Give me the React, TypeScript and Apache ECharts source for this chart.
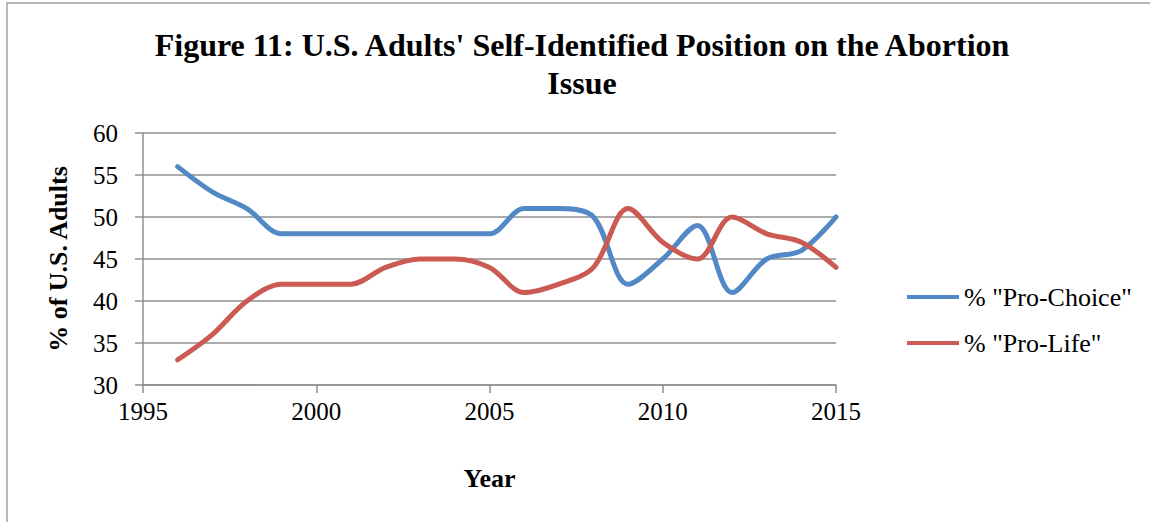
import React, { useEffect, useRef } from "react";
import * as echarts from "echarts";

const years = [1996, 1997, 1998, 1999, 2000, 2001, 2002, 2003, 2004, 2005, 2006, 2007, 2008, 2009, 2010, 2011, 2012, 2013, 2014, 2015];
const proChoice = [56, 53, 51, 48, 48, 48, 48, 48, 48, 48, 51, 51, 50, 42, 45, 49, 41, 45, 46, 50];
const proLife = [33, 36, 40, 42, 42, 42, 44, 45, 45, 44, 41, 42, 44, 51, 47, 45, 50, 48, 47, 44];
const seriesNames = ['% "Pro-Choice"', '% "Pro-Life"'];
const titleText = "Figure 11: U.S. Adults' Self-Identified Position on the Abortion\nIssue";
const xName = "Year";
const yName = "% of U.S. Adults";

const SERIF = "Liberation Serif";

export default function App() {
  const ref = useRef<HTMLDivElement>(null);
  useEffect(() => {
    if (!ref.current) return;
    const chart = echarts.init(ref.current, undefined, { renderer: "svg" });
    const gridColor = "#8f8f8f";
    chart.setOption({
      animation: false,
      backgroundColor: "#ffffff",
      textStyle: { fontFamily: SERIF, color: "#000" },
      graphic: [
        {
          type: "rect",
          shape: { x: 7, y: 3, width: 1160, height: 540 },
          style: { fill: "none", stroke: "#a3a3a3", lineWidth: 1.5 },
          silent: true,
        },
        {
          type: "text",
          x: 582,
          y: 26,
          style: {
            text: titleText,
            align: "center",
            verticalAlign: "top",
            fontFamily: SERIF,
            fontWeight: "bold",
            fontSize: 32,
            lineHeight: 38,
            fill: "#000",
          },
        },
      ],
      grid: { left: 143, right: 314, top: 133, bottom: 137 },
      legend: {
        orient: "vertical",
        left: 902,
        top: 279,
        itemWidth: 52,
        itemHeight: 4,
        itemGap: 20,
        icon: "rect",
        textStyle: { fontFamily: SERIF, fontSize: 26, color: "#000" },
        data: seriesNames,
      },
      xAxis: {
        type: "value",
        min: 1995,
        max: 2015,
        interval: 5,
        name: xName,
        nameLocation: "middle",
        nameGap: 80,
        nameTextStyle: { fontFamily: SERIF, fontWeight: "bold", fontSize: 26, color: "#000" },
        axisLine: { show: true, lineStyle: { color: gridColor, width: 1.5 } },
        axisTick: { show: true, length: 8, lineStyle: { color: gridColor, width: 1.5 } },
        axisLabel: {
          margin: 14,
          fontFamily: SERIF,
          fontSize: 25,
          color: "#000",
          formatter: (v: number) => String(v),
        },
        splitLine: { show: false },
      },
      yAxis: {
        type: "value",
        min: 30,
        max: 60,
        interval: 5,
        name: yName,
        nameLocation: "middle",
        nameGap: 72,
        nameRotate: 90,
        nameTextStyle: { fontFamily: SERIF, fontWeight: "bold", fontSize: 26, color: "#000" },
        axisLine: { show: true, lineStyle: { color: gridColor, width: 1.5 } },
        axisTick: { show: true, length: 8, lineStyle: { color: gridColor, width: 1.5 } },
        axisLabel: { margin: 25, fontFamily: SERIF, fontSize: 25, color: "#000" },
        splitLine: { show: true, lineStyle: { color: gridColor, width: 1.5 } },
      },
      series: [
        {
          name: seriesNames[0],
          type: "line",
          smooth: 0.33,
          smoothConstraint: false,
          showSymbol: false,
          symbol: "none",
          color: "#5288c6",
          lineStyle: { width: 5, color: "#5288c6", cap: "round", join: "round" },
          data: years.map((y, i) => [y, proChoice[i]]),
        },
        {
          name: seriesNames[1],
          type: "line",
          smooth: 0.33,
          smoothConstraint: false,
          showSymbol: false,
          symbol: "none",
          color: "#cb5b52",
          lineStyle: { width: 5, color: "#cb5b52", cap: "round", join: "round" },
          data: years.map((y, i) => [y, proLife[i]]),
        },
      ],
    });
    return () => chart.dispose();
  }, []);
  return (
    <div
      ref={ref}
      style={{ position: "absolute", left: 0, top: 0, width: 1150, height: 522 }}
    />
  );
}
